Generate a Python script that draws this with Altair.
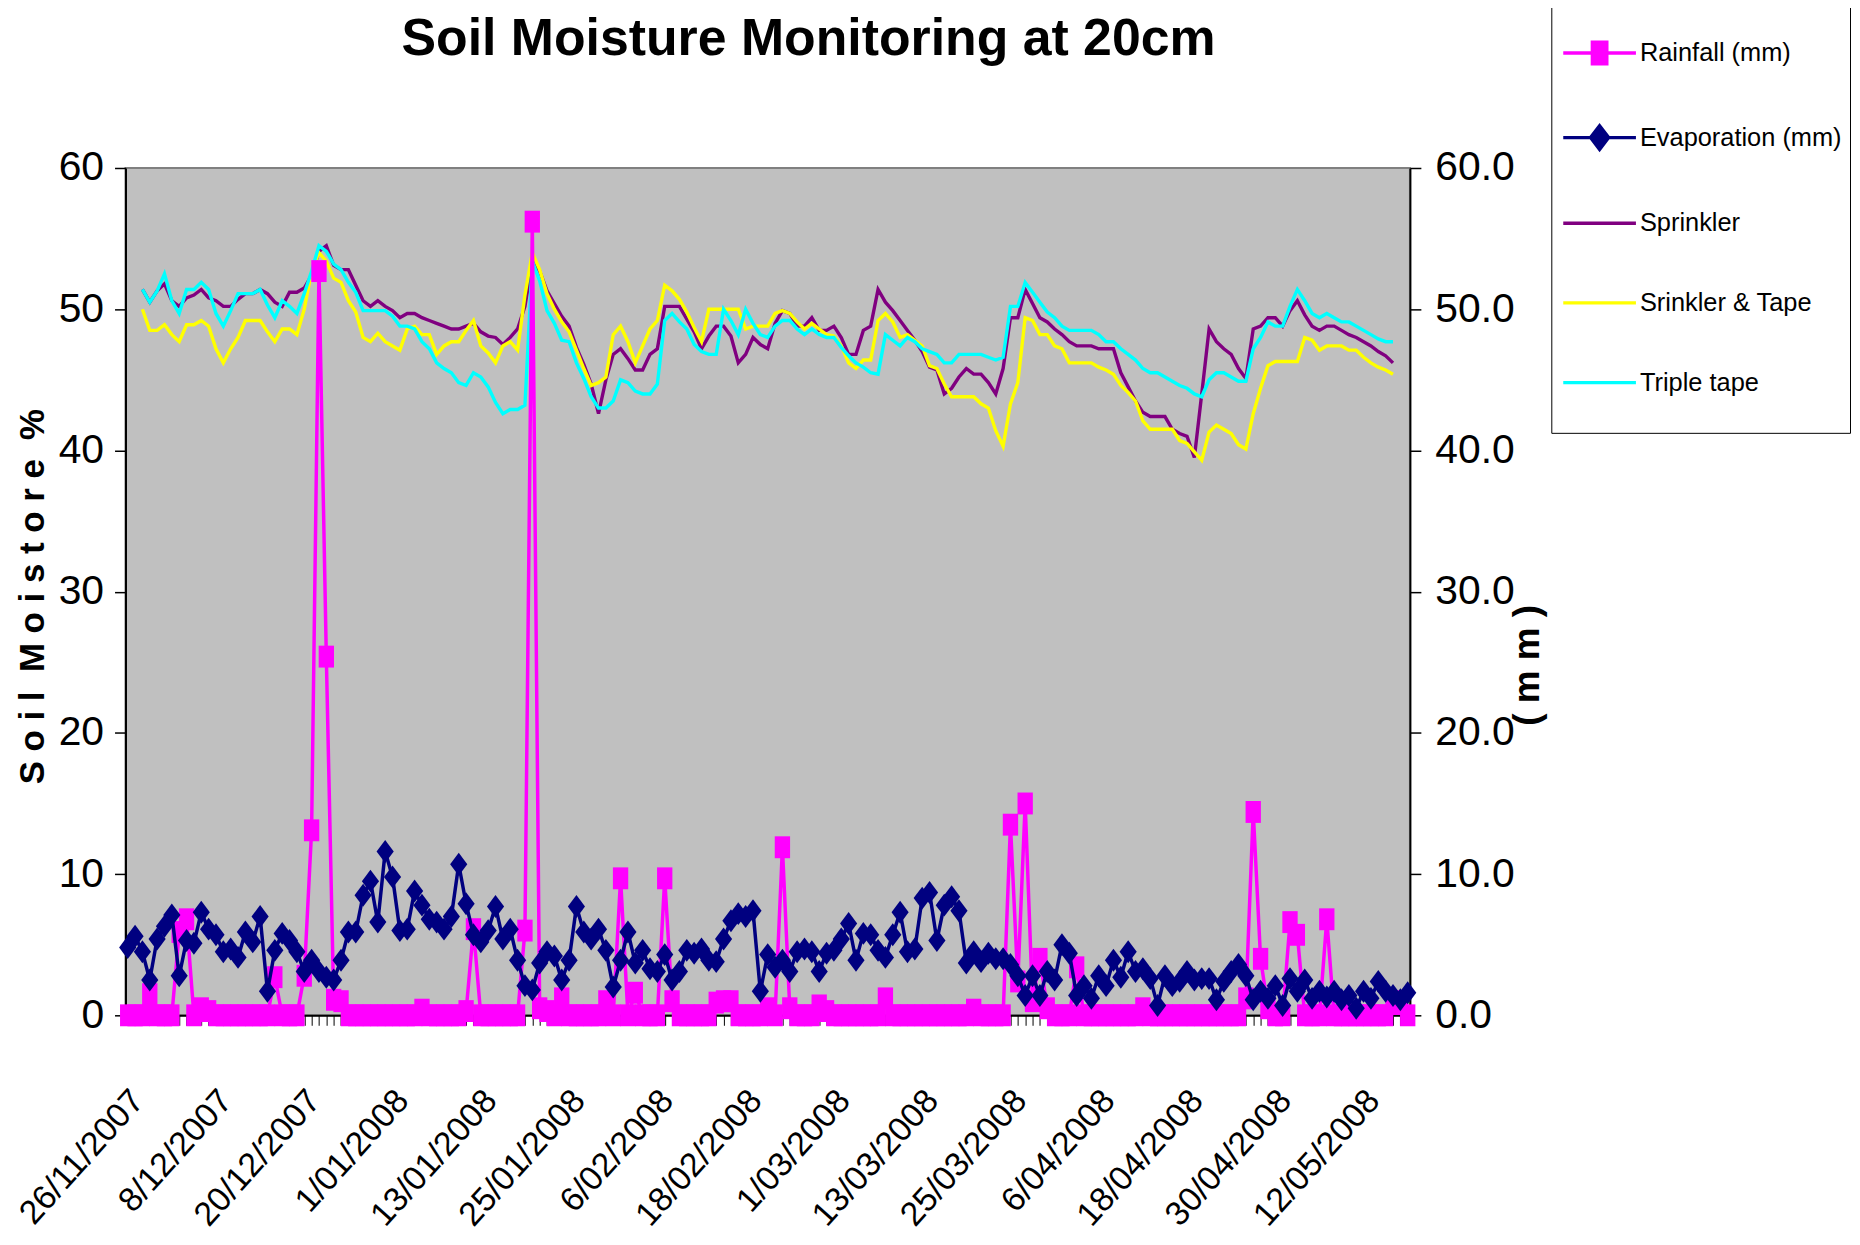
import altair as alt
import pandas as pd

START = "2007-11-26"

SERIES = ["Rainfall (mm)", "Evaporation (mm)", "Sprinkler", "Srinkler & Tape", "Triple tape"]
COLORS = ["#FF00FF", "#000080", "#800080", "#FFFF00", "#00FFFF"]

RAIN = [
    0, 0, 0, 1.5, 0, 0, 0, 5.9, 6.8, 0,
    0.5, 0.3, 0, 0, 0, 0, 0, 0, 0, 0,
    2.7, 0, 0, 0, 2.8, 13.1, 52.7, 25.4, 1.1, 1.0,
    0, 0, 0, 0, 0, 0, 0, 0, 0, 0,
    0.4, 0, 0, 0, 0, 0, 0.3, 6.1, 0, 0,
    0, 0, 0, 0, 6.0, 56.2, 0.5, 0.3, 0, 1.2,
    0, 0, 0, 0, 0, 1.0, 0, 9.7, 0, 1.6,
    0, 0, 0, 9.7, 1.0, 0, 0, 0, 0, 0,
    0.9, 1.0, 1.0, 0, 0, 0, 0, 0.5, 0, 11.9,
    0.5, 0, 0, 0, 0.7, 0.3, 0, 0, 0, 0,
    0, 0, 0, 1.2, 0, 0, 0, 0, 0, 0,
    0, 0, 0, 0, 0, 0.4, 0, 0, 0, 0,
    13.5, 2.4, 15.0, 1.0, 4.0, 0.5, 0, 0, 0, 3.4,
    0, 0, 0, 0, 0, 0, 0, 0, 0.5, 0,
    0, 0, 0, 0, 0, 0, 0, 0, 0, 0,
    0, 0, 1.2, 14.4, 4.0, 0.5, 0, 0, 6.6, 5.7,
    0, 0, 0, 6.8, 0, 0, 0, 0, 0, 0,
    0, 0, 1.0, 0.8, 0,
]

EVAP = [
    4.8, 5.6, 4.5, 2.5, 5.4, 6.3, 7.1, 2.8, 5.3, 5.1,
    7.3, 6.1, 5.7, 4.5, 4.7, 4.1, 5.9, 5.2, 7.0, 1.7,
    4.6, 5.8, 5.3, 4.5, 3.1, 3.9, 3.1, 2.7, 2.5, 3.9,
    5.9, 5.9, 8.5, 9.5, 6.6, 11.6, 9.8, 6.0, 6.1, 8.8,
    7.8, 6.8, 6.6, 6.1, 7.0, 10.7, 7.9, 5.7, 5.2, 6.0,
    7.7, 5.4, 6.1, 3.9, 2.1, 1.8, 3.7, 4.5, 4.2, 2.5,
    3.9, 7.7, 5.9, 5.4, 6.1, 4.6, 2.0, 3.9, 5.9, 3.7,
    4.6, 3.3, 3.1, 4.3, 2.5, 3.1, 4.6, 4.4, 4.7, 3.9,
    3.8, 5.4, 6.7, 7.2, 7.0, 7.4, 1.7, 4.3, 3.4, 3.9,
    3.1, 4.5, 4.7, 4.5, 3.1, 4.4, 4.6, 5.4, 6.5, 3.9,
    5.8, 5.7, 4.6, 4.1, 5.7, 7.3, 4.5, 4.7, 8.3, 8.7,
    5.3, 7.8, 8.4, 7.4, 3.7, 4.5, 3.8, 4.4, 4.0, 4.0,
    3.6, 2.8, 1.4, 2.8, 1.4, 3.1, 2.5, 5.0, 4.4, 1.4,
    2.1, 1.2, 2.8, 2.1, 3.9, 2.7, 4.5, 3.1, 3.3, 2.6,
    0.7, 2.8, 2.1, 2.4, 3.1, 2.5, 2.6, 2.6, 1.1, 2.4,
    3.1, 3.6, 2.8, 1.1, 1.7, 1.2, 2.1, 0.7, 2.6, 1.7,
    2.5, 1.2, 1.7, 1.3, 1.7, 1.1, 1.4, 0.5, 1.7, 1.2,
    2.4, 1.7, 1.4, 1.1, 1.6,
]

# soil moisture series start on the third day
LINE_START = 2
SPRINKLER = [
    51.4, 50.5, 51.3, 51.8, 50.6, 50.2, 50.8, 51.0, 51.4, 50.8,
    50.6, 50.2, 50.2, 50.7, 51.1, 51.1, 51.4, 51.1, 50.5, 50.2,
    51.2, 51.2, 51.5, 52.4, 54.1, 54.5, 53.1, 52.8, 52.8, 51.7,
    50.6, 50.2, 50.6, 50.2, 49.9, 49.4, 49.7, 49.7, 49.4, 49.2,
    49.0, 48.8, 48.6, 48.6, 48.8, 49.0, 48.4, 48.1, 48.0, 47.5,
    48.0, 48.6, 50.2, 53.4,
    52.7, 51.3, 50.4, 49.5, 48.8, 47.3, 46.1, 44.7, 42.6, 45.0,
    46.8, 47.2, 46.5, 45.7, 45.7, 46.8, 47.2, 50.2, 50.2, 50.2,
    49.3, 48.4, 47.2, 48.1, 48.8, 48.8, 48.1, 46.2, 46.8, 48.0,
    47.5, 47.2, 49.0, 49.9, 49.7, 48.8, 48.8, 49.4, 48.5, 48.5,
    48.8, 48.0, 46.8, 46.8, 48.5, 48.8, 51.4, 50.5, 49.9, 49.2,
    48.5, 47.8, 47.0, 45.9, 45.7, 44.0, 44.4, 45.2, 45.8, 45.4,
    45.4, 44.8, 44.0,
    45.8, 49.4, 49.4, 51.4, 50.4, 49.4, 49.1, 48.6, 48.2, 47.7,
    47.4, 47.4, 47.4, 47.2, 47.2, 47.2, 45.5, 44.5, 43.5, 42.7,
    42.4, 42.4, 42.4, 41.5, 41.2, 41.0, 39.5, 44.0, 48.6, 47.7,
    47.2, 46.8, 45.8, 45.1, 48.6, 48.8, 49.4, 49.4, 48.8, 49.9,
    50.6, 49.6, 48.8, 48.5, 48.8, 48.8, 48.5, 48.2, 48.0, 47.7,
    47.4, 47.0, 46.7, 46.2,
]
SPRINKLER_TAPE = [
    50.0, 48.5, 48.5, 48.9, 48.2, 47.7, 48.9, 48.9, 49.2, 48.8,
    47.2, 46.2, 47.2, 48.0, 49.2, 49.2, 49.2, 48.4, 47.7, 48.6,
    48.6, 48.2, 50.0, 52.7, 54.0, 53.4, 52.2, 51.9, 50.6, 49.8,
    48.0, 47.7, 48.3, 47.7, 47.4, 47.1, 48.6, 48.8, 48.2, 48.2,
    46.8, 47.4, 47.7, 47.7, 48.5, 49.2, 47.4, 46.9, 46.2, 47.4,
    47.7, 47.1, 51.0, 54.0,
    52.8, 51.1, 50.0, 49.1, 48.4, 47.1, 45.8, 44.6, 44.8, 45.2,
    48.2, 48.8, 47.7, 46.2, 47.4, 48.6, 49.2, 51.7, 51.3, 50.7,
    49.8, 48.7, 47.7, 50.0, 50.0, 50.0, 50.0, 50.0, 48.6, 48.8,
    48.8, 48.8, 49.7, 49.9, 49.7, 49.1, 48.6, 49.0, 48.6, 48.2,
    48.1, 47.4, 46.2, 45.8, 46.4, 46.4, 49.2, 49.7, 49.1, 48.0,
    48.2, 47.8, 47.4, 46.0, 45.8, 44.7, 43.8, 43.8, 43.8, 43.8,
    43.3, 43.0, 41.4,
    40.3, 43.3, 44.8, 49.4, 49.2, 48.2, 48.2, 47.4, 47.2, 46.2,
    46.2, 46.2, 46.2, 45.9, 45.7, 45.4, 44.6, 44.1, 43.5, 42.1,
    41.5, 41.5, 41.5, 41.5, 40.7, 40.5, 39.9, 39.3, 41.3, 41.8,
    41.5, 41.2, 40.4, 40.1, 42.6, 44.4, 46.0, 46.3, 46.3, 46.3,
    46.3, 48.0, 47.8, 47.1, 47.4, 47.4, 47.4, 47.1, 47.1, 46.6,
    46.2, 45.9, 45.7, 45.4,
]
TRIPLE_TAPE = [
    51.4, 50.5, 51.3, 52.5, 50.6, 49.7, 51.4, 51.4, 51.9, 51.4,
    49.7, 48.8, 49.9, 51.1, 51.1, 51.1, 51.4, 50.3, 49.4, 50.6,
    50.2, 49.7, 51.1, 52.7, 54.5, 54.1, 53.2, 52.8, 51.9, 51.2,
    49.9, 49.9, 49.9, 49.9, 49.5, 48.8, 48.8, 48.6, 47.7, 47.2,
    46.2, 45.8, 45.5, 44.8, 44.6, 45.5, 45.2, 44.5, 43.4, 42.6,
    42.9, 42.9, 43.2, 53.4,
    52.0, 49.9, 49.0, 47.8, 47.7, 46.2, 45.1, 43.8, 43.0, 43.0,
    43.5, 45.0, 44.8, 44.2, 44.0, 44.0, 44.7, 49.2, 49.7, 49.1,
    48.6, 47.5, 47.0, 46.8, 46.8, 50.0, 49.2, 48.2, 50.0, 49.0,
    48.2, 48.0, 48.8, 49.2, 49.2, 48.6, 48.2, 48.6, 48.2, 48.0,
    48.0, 47.3, 46.7, 46.2, 45.9, 45.5, 45.4, 48.2, 47.8, 47.4,
    48.0, 47.7, 47.2, 47.0, 46.8, 46.2, 46.2, 46.8, 46.8, 46.8,
    46.8, 46.6, 46.4,
    46.6, 50.2, 50.2, 51.9, 51.2, 50.5, 49.8, 49.4, 48.8, 48.5,
    48.5, 48.5, 48.5, 48.2, 47.7, 47.7, 47.2, 46.8, 46.4, 45.8,
    45.5, 45.5, 45.2, 44.9, 44.6, 44.4, 44.0, 43.8, 45.0, 45.5,
    45.5, 45.2, 44.9, 44.9, 47.2, 48.0, 49.1, 48.8, 48.8, 50.2,
    51.4, 50.6, 49.7, 49.4, 49.7, 49.4, 49.1, 49.1, 48.8, 48.5,
    48.2, 47.9, 47.7, 47.7,
]

LABEL_DATES = [
    "2007-11-26", "2007-12-08", "2007-12-20", "2008-01-01", "2008-01-13",
    "2008-01-25", "2008-02-06", "2008-02-18", "2008-03-01", "2008-03-13",
    "2008-03-25", "2008-04-06", "2008-04-18", "2008-04-30", "2008-05-12",
]
Y_TICKS = [0, 10, 20, 30, 40, 50, 60]

TITLE = "Soil Moisture Monitoring at 20cm"
Y_LEFT_TITLE = "S o i l \u00a0M o i s t o r e \u00a0%"
Y_RIGHT_TITLE = "( m m )"

FONT = "Liberation Sans, Arial, Helvetica, sans-serif"

# ---------------------------------------------------------------- data
days = pd.date_range(START, periods=len(RAIN), freq="D").strftime("%Y-%m-%d").tolist()
mm_df = pd.DataFrame({"date": days, "rain": RAIN, "evap": EVAP})
soil_days = days[LINE_START:LINE_START + len(SPRINKLER)]
soil_df = pd.DataFrame({
    "date": soil_days,
    "sprinkler": SPRINKLER,
    "srt": SPRINKLER_TAPE,
    "triple": TRIPLE_TAPE,
})

# ---------------------------------------------------------------- scales / axes
X_DOMAIN = [
    alt.DateTime(year=2007, month=11, date=25, hours=16, minutes=48, utc=True),
    alt.DateTime(year=2008, month=5, date=18, hours=7, minutes=12, utc=True),
]
xs = alt.Scale(type="utc", domain=X_DOMAIN)
label_list = ",".join("'%s'" % d for d in LABEL_DATES)
x_axis = alt.Axis(
    orient="bottom", title=None, grid=False,
    tickCount={"interval": "day", "step": 1},
    labelExpr="indexof([%s], utcFormat(datum.value, '%%Y-%%m-%%d')) >= 0 ? "
              "utcFormat(datum.value, '%%-d/%%m/%%Y') : ''" % label_list,
    labelAngle=312, labelAlign="right", labelBaseline="middle",
    labelPadding=70, labelOffset=10, labelFont=FONT, labelFontSize=34, labelLimit=500,
    labelColor="black", labelOverlap=False, labelFlush=False,
    domainColor="black", domainWidth=2, tickColor="black", tickSize=10, tickWidth=1,
)

ys_left = alt.Scale(domain=[0, 60], nice=False, zero=True)
ys_right = alt.Scale(domain=[0, 60], nice=False, zero=True)

left_axis = alt.Axis(
    orient="left", values=Y_TICKS, format="d", grid=False,
    domainColor="black", domainWidth=2, tickColor="black", tickSize=11, tickWidth=1.5,
    labelFont=FONT, labelFontSize=41, labelColor="black", labelPadding=11,
    title=Y_LEFT_TITLE, titleFont=FONT, titleFontWeight="bold", titleFontSize=35,
    titleColor="black", titleAngle=270, titleX=-93, titleY=430,
    titleAlign="center", titleBaseline="middle",
)
right_axis = alt.Axis(
    orient="right", values=Y_TICKS, format=".1f", grid=False,
    domainColor="black", domainWidth=2, tickColor="black", tickSize=11, tickWidth=1.5,
    labelFont=FONT, labelFontSize=41, labelColor="black", labelPadding=14,
    title=Y_RIGHT_TITLE, titleFont=FONT, titleFontWeight="bold", titleFontSize=37,
    titleColor="black", titleAngle=270, titleX=118, titleY=499,
    titleAlign="center", titleBaseline="middle",
)

RECT = "M-0.7,-1H0.7V1H-0.7Z"
DIAMOND = "M0,-1L0.75,0L0,1L-0.75,0Z"
LEG_SHAPES = [
    "M-1,0H1M-0.2,-0.3H0.2V0.3H-0.2Z",
    "M-1,0H1M0,-0.33L0.25,0L0,0.33L-0.25,0Z",
    "M-1,0H1",
    "M-1,0H1",
    "M-1,0H1",
]

# ---------------------------------------------------------------- soil lines (left axis)
soil_base = alt.Chart(soil_df)
l_spr = soil_base.mark_line(color=COLORS[2], strokeWidth=3.4).encode(
    x=alt.X("date:T", scale=xs, axis=x_axis),
    y=alt.Y("sprinkler:Q", scale=ys_left, axis=left_axis))
l_srt = soil_base.mark_line(color=COLORS[3], strokeWidth=3.4).encode(
    x=alt.X("date:T", scale=xs), y=alt.Y("srt:Q", scale=ys_left))
l_tri = soil_base.mark_line(color=COLORS[4], strokeWidth=3.4).encode(
    x=alt.X("date:T", scale=xs), y=alt.Y("triple:Q", scale=ys_left))
soil = alt.layer(l_spr, l_srt, l_tri)

# ---------------------------------------------------------------- mm series (right axis)
mm_base = alt.Chart(mm_df)
r_line = mm_base.mark_line(color=COLORS[0], strokeWidth=3.5).encode(
    x=alt.X("date:T", scale=xs), y=alt.Y("rain:Q", scale=ys_right, axis=right_axis))
r_pts = mm_base.mark_point(shape=RECT, size=484, filled=True, color=COLORS[0], opacity=1).encode(
    x=alt.X("date:T", scale=xs), y=alt.Y("rain:Q", scale=ys_right))
e_line = mm_base.mark_line(color=COLORS[1], strokeWidth=3.5).encode(
    x=alt.X("date:T", scale=xs), y=alt.Y("evap:Q", scale=ys_right))
e_pts = mm_base.mark_point(shape=DIAMOND, size=529, filled=True, color=COLORS[1], opacity=1).encode(
    x=alt.X("date:T", scale=xs), y=alt.Y("evap:Q", scale=ys_right))

legend_def = alt.Legend(
    title="\u00a0", titleOrient="bottom", titleFontSize=20, titlePadding=9,
    orient="none", legendX=1432, legendY=-162,
    padding=8, rowPadding=28, strokeColor="black", fillColor="white",
    labelFont=FONT, labelFontSize=25.5, labelColor="black", labelOffset=2, labelLimit=500,
    symbolSize=5329, symbolStrokeWidth=3.3, symbolOffset=2,
)
legend_layer = alt.Chart(mm_df).transform_calculate(series="'x'").transform_filter(
    "datum.rain < -1").mark_point(filled=True, opacity=1).encode(
    shape=alt.Shape("series:N", scale=alt.Scale(domain=SERIES, range=LEG_SHAPES), legend=legend_def),
    fill=alt.Fill("series:N", scale=alt.Scale(domain=SERIES, range=COLORS), legend=legend_def),
    stroke=alt.Stroke("series:N", scale=alt.Scale(domain=SERIES, range=COLORS), legend=legend_def),
)
mm = alt.layer(r_line, r_pts, e_line, e_pts, legend_layer)

chart = alt.layer(soil, mm).resolve_scale(y="independent").properties(
    width=1290, height=851,
    title=alt.TitleParams(text=TITLE, font=FONT, fontSize=52, fontWeight="bold", color="black",
                          anchor="middle", frame="group", dx=41, offset=-101.5,
                          baseline="alphabetic"),
    padding={"left": 118, "top": 158, "right": 444, "bottom": 228},
    autosize=alt.AutoSizeParams(type="none"),
    background="white",
    view=alt.ViewBackground(fill="#C0C0C0", stroke="#808080", strokeWidth=2),
).configure_view(fill="#C0C0C0", stroke="#808080", strokeWidth=2)

chart.save("out.html", embed_options={"renderer": "svg", "actions": False})
